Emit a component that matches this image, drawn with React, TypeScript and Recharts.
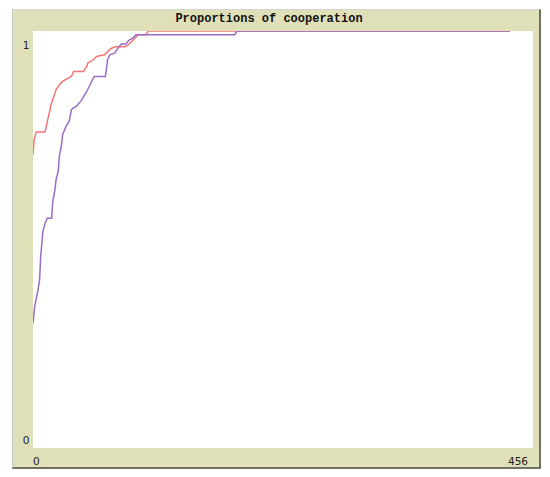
import { LineChart, Line, XAxis, YAxis, CartesianGrid } from "recharts";

// ticks (x) y proporciones
const redTicks = [0, 1, 3, 11, 13, 14, 15.5, 16, 18, 20, 21, 24, 27, 32, 35, 37, 46, 49, 50, 55, 58, 65, 68, 71, 75, 84, 87, 90, 93, 96, 103, 105, 435];
const redValues = [0.703, 0.739, 0.758, 0.758, 0.782, 0.794, 0.81, 0.82, 0.835, 0.851, 0.859, 0.871, 0.879, 0.887, 0.891, 0.903, 0.903, 0.915, 0.923, 0.931, 0.939, 0.943, 0.95, 0.958, 0.962, 0.962, 0.967, 0.975, 0.983, 0.991, 0.991, 1, 1];

const purpleTicks = [0, 1.5, 4, 6, 7, 9, 11, 13, 17, 18, 20, 21, 23, 24, 26, 27, 30, 33, 35, 36.5, 39.5, 44, 49, 52, 55, 56, 66, 67.5, 68, 70, 74.5, 77.5, 80.5, 85, 86.5, 88, 91, 94, 184, 186, 435];
const purpleValues = [0.299, 0.339, 0.371, 0.403, 0.459, 0.519, 0.539, 0.551, 0.551, 0.591, 0.619, 0.643, 0.663, 0.699, 0.727, 0.751, 0.771, 0.783, 0.811, 0.815, 0.819, 0.833, 0.855, 0.871, 0.887, 0.891, 0.891, 0.919, 0.931, 0.943, 0.947, 0.959, 0.969, 0.969, 0.975, 0.979, 0.983, 0.991, 0.991, 1, 1];

const xTicks = [0, 456];
const yTicks = [0, 1];
const title = "Proportions of cooperation";

const redData = redTicks.map((t, i) => ({ t, v: redValues[i] }));
const purpleData = purpleTicks.map((t, i) => ({ t, v: purpleValues[i] }));

const tickFont = "'DejaVu Sans', sans-serif";

function XTick(props: any) {
    const { x, y, payload } = props;
    const last = payload.value === xTicks[xTicks.length - 1];
    return (
        <text x={last ? x - 5 : x} y={y + 9} textAnchor={last ? "end" : "start"}
            fontFamily={tickFont} fontSize={10.5} fill="#222">
            {payload.value}
        </text>
    );
}

function YTick(props: any) {
    const { x, y, payload } = props;
    //el 1 va debajo de la linea superior, el 0 encima de la inferior
    const dy = payload.value === 1 ? 18 : -4;
    return (
        <text x={x + 1} y={y + dy} textAnchor="middle"
            fontFamily={tickFont} fontSize={10.5} fill="#222">
            {payload.value}
        </text>
    );
}

export default function App() {
    return (
        <div style={{ position: "absolute", left: 0, top: 0, width: 550, height: 477, background: "#fff" }}>
            {/* marco del plot */}
            <div style={{
                position: "absolute", left: 12, top: 9, width: 526, height: 457,
                background: "#e0e0b8",
                borderLeft: "1px solid #c4c4c4", borderTop: "1px solid #d4d4d4",
                borderRight: "2px solid #707064", borderBottom: "2px solid #707064"
            }} />
            <div style={{
                position: "absolute", left: -6, top: 12, width: 550, textAlign: "center",
                fontFamily: "'Liberation Mono', monospace", fontWeight: "bold", fontSize: 12, color: "#111"
            }}>
                {title}
            </div>
            <div style={{ position: "absolute", left: 0, top: 0 }}>
                <LineChart width={550} height={477} margin={{ top: 31, right: 17, bottom: 0, left: 12 }}>
                    <CartesianGrid horizontal={false} vertical={false} fill="#fff" />
                    <XAxis type="number" dataKey="t" domain={[0, 456]} ticks={xTicks} height={29}
                        axisLine={false} tickLine={false} tick={<XTick />} allowDataOverflow />
                    <YAxis type="number" dataKey="v" domain={[0, 1]} ticks={yTicks} width={21}
                        axisLine={false} tickLine={false} tick={<YTick />} allowDataOverflow />
                    <Line data={redData} dataKey="v" type="linear" stroke="#f87474" strokeWidth={1.5}
                        dot={false} isAnimationActive={false} />
                    <Line data={purpleData} dataKey="v" type="linear" stroke="#9a6cc8" strokeWidth={1.5}
                        dot={false} isAnimationActive={false} />
                </LineChart>
            </div>
        </div>
    );
}
